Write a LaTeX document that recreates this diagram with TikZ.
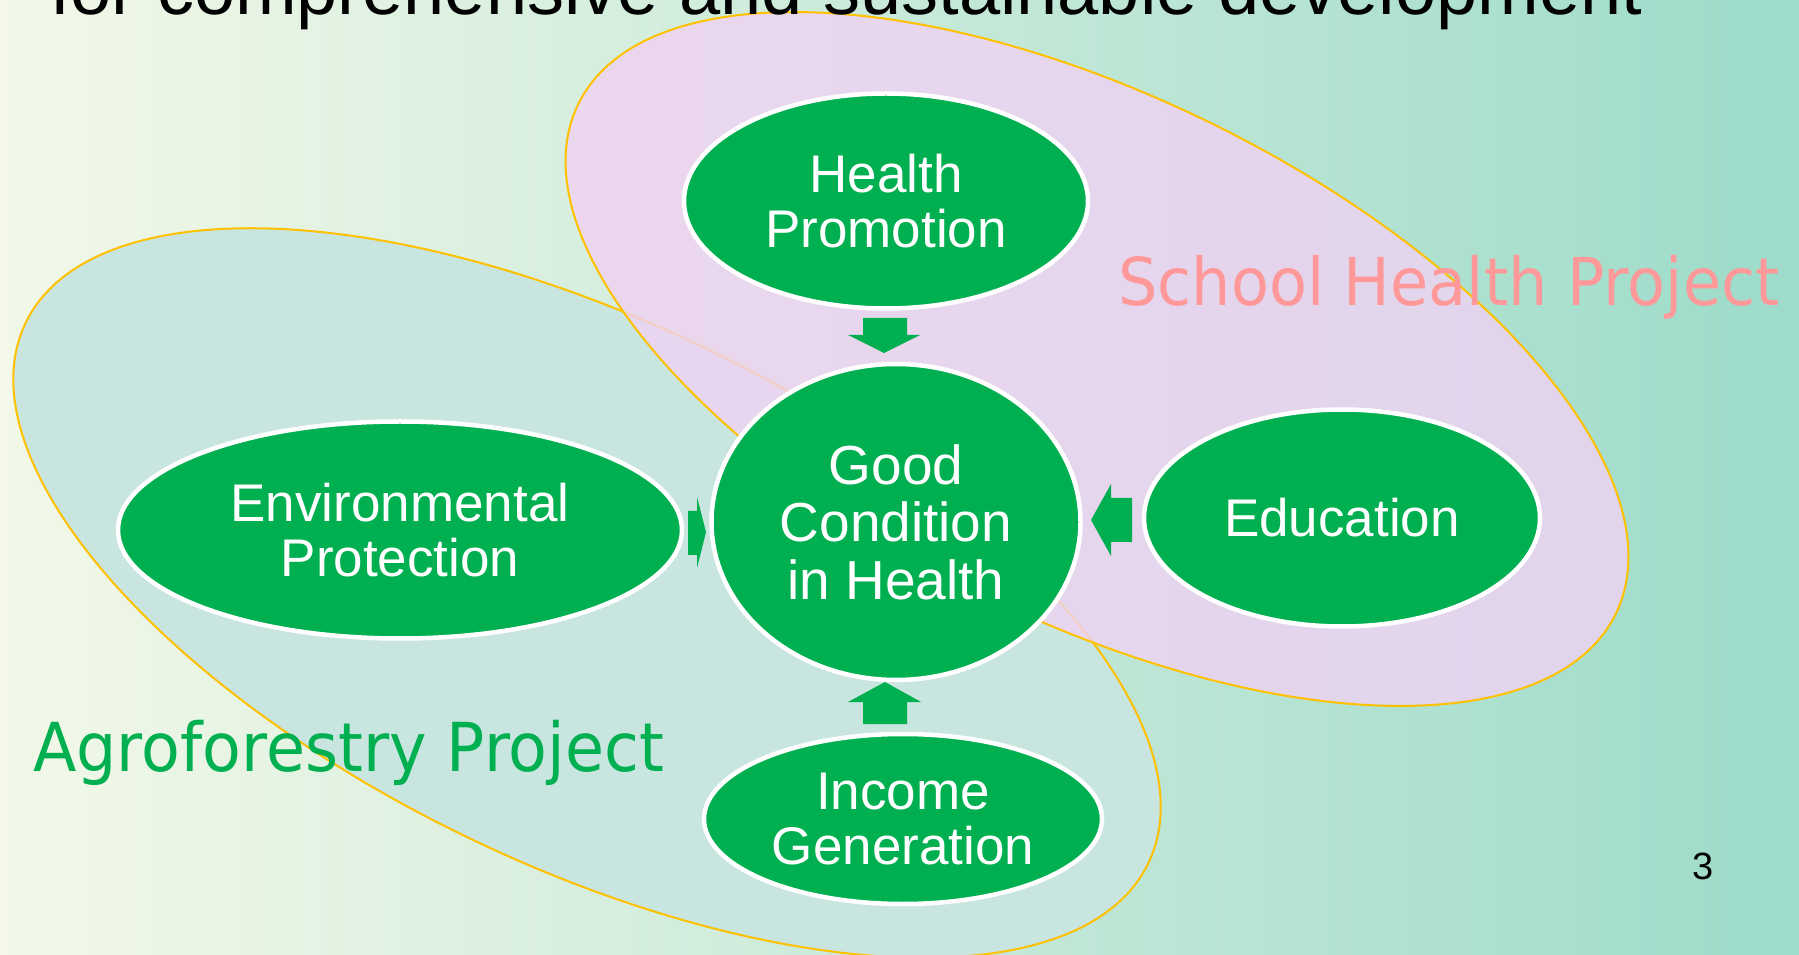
\documentclass[tikz,border=0pt]{standalone}
\usepackage{fontspec}
\setmainfont{Liberation Sans}
\newfontfamily\projfont{DejaVu Sans}[FakeStretch=0.94]
\usepackage{tikz}
\definecolor{mygreen}{RGB}{0,176,80}
\definecolor{mygold}{RGB}{255,192,0}
\definecolor{mypink}{RGB}{255,153,153}
\definecolor{agrofill}{RGB}{200,229,224}
\definecolor{schoolfill}{RGB}{240,210,243}
\definecolor{bgleft}{RGB}{243,248,232}
\definecolor{bgright}{RGB}{157,219,202}
\usetikzlibrary{shapes,positioning}

\begin{document}
\begin{tikzpicture}[x=1pt,y=1pt,
    greenell/.style={ellipse,draw=white,line width=4.5pt,fill=mygreen,text=white,
      inner sep=0pt,align=center,font=\fontsize{53}{55}\selectfont},
    projell/.style={ellipse,draw=mygold,line width=2pt,inner sep=0pt},
    projtext/.style={anchor=base west,inner sep=0pt,font=\projfont\fontsize{66}{70}\selectfont},
    blockarr/.style={fill=mygreen}
    ]
    \useasboundingbox (0,0) rectangle (1799,954);
    \shade[left color=bgleft,right color=bgright] (0,0) rectangle (1799,954);

    \node (agro) [projell,fill=agrofill,rotate=-25.7,minimum width=1246,minimum height=544] at (587,361) {};
    \node (school) [projell,fill=schoolfill,fill opacity=0.8,rotate=-26.2,minimum width=1156,minimum height=524] at (1097,595) {};

    \node (title) [anchor=base west,inner sep=0pt,font=\fontsize{74}{80}\selectfont] at (50,939) {for comprehensive and sustainable development};
    \node (agrolabel) [projtext,text=mygreen,font=\projfont\fontsize{67.5}{70}\selectfont] at (33,183) {Agroforestry Project};
    \node (schoollabel) [projtext,text=mypink] at (1118,648) {School Health Project};

    \node (good) [greenell,minimum width=369,minimum height=316,font=\fontsize{55}{57.5}\selectfont] at (896,432) {Good\\Condition\\in Health};
    \node (hp) [greenell,minimum width=404,minimum height=215] at (886,753) {Health\\Promotion};
    \node (edu) [greenell,minimum width=396,minimum height=217] at (1342,436) {Education};
    \node (env) [greenell,minimum width=564,minimum height=217] at (400,424) {Environmental\\Protection};
    \node (inc) [greenell,minimum width=398,minimum height=170] at (903,135) {Income\\Generation};

    % the arrows
    \fill[blockarr] (863,636) -- (907,636) -- (907,619) -- (920,619) -- (884,601) -- (848,619) -- (863,619) -- cycle;
    \fill[blockarr] (863,230) -- (907,230) -- (907,252) -- (921,252) -- (885,272) -- (848,252) -- (863,252) -- cycle;
    \fill[blockarr] (688,443) -- (697,443) -- (697,457) -- (706,422) -- (697,386) -- (697,399) -- (688,399) -- cycle;
    \fill[blockarr] (1132,456) -- (1111,456) -- (1111,470) -- (1091,434) -- (1111,398) -- (1111,412) -- (1132,412) -- cycle;

    \node (pnum) [anchor=base,inner sep=0pt,font=\fontsize{38}{40}\selectfont] at (1703.5,75) {3};
\end{tikzpicture}
\end{document}
